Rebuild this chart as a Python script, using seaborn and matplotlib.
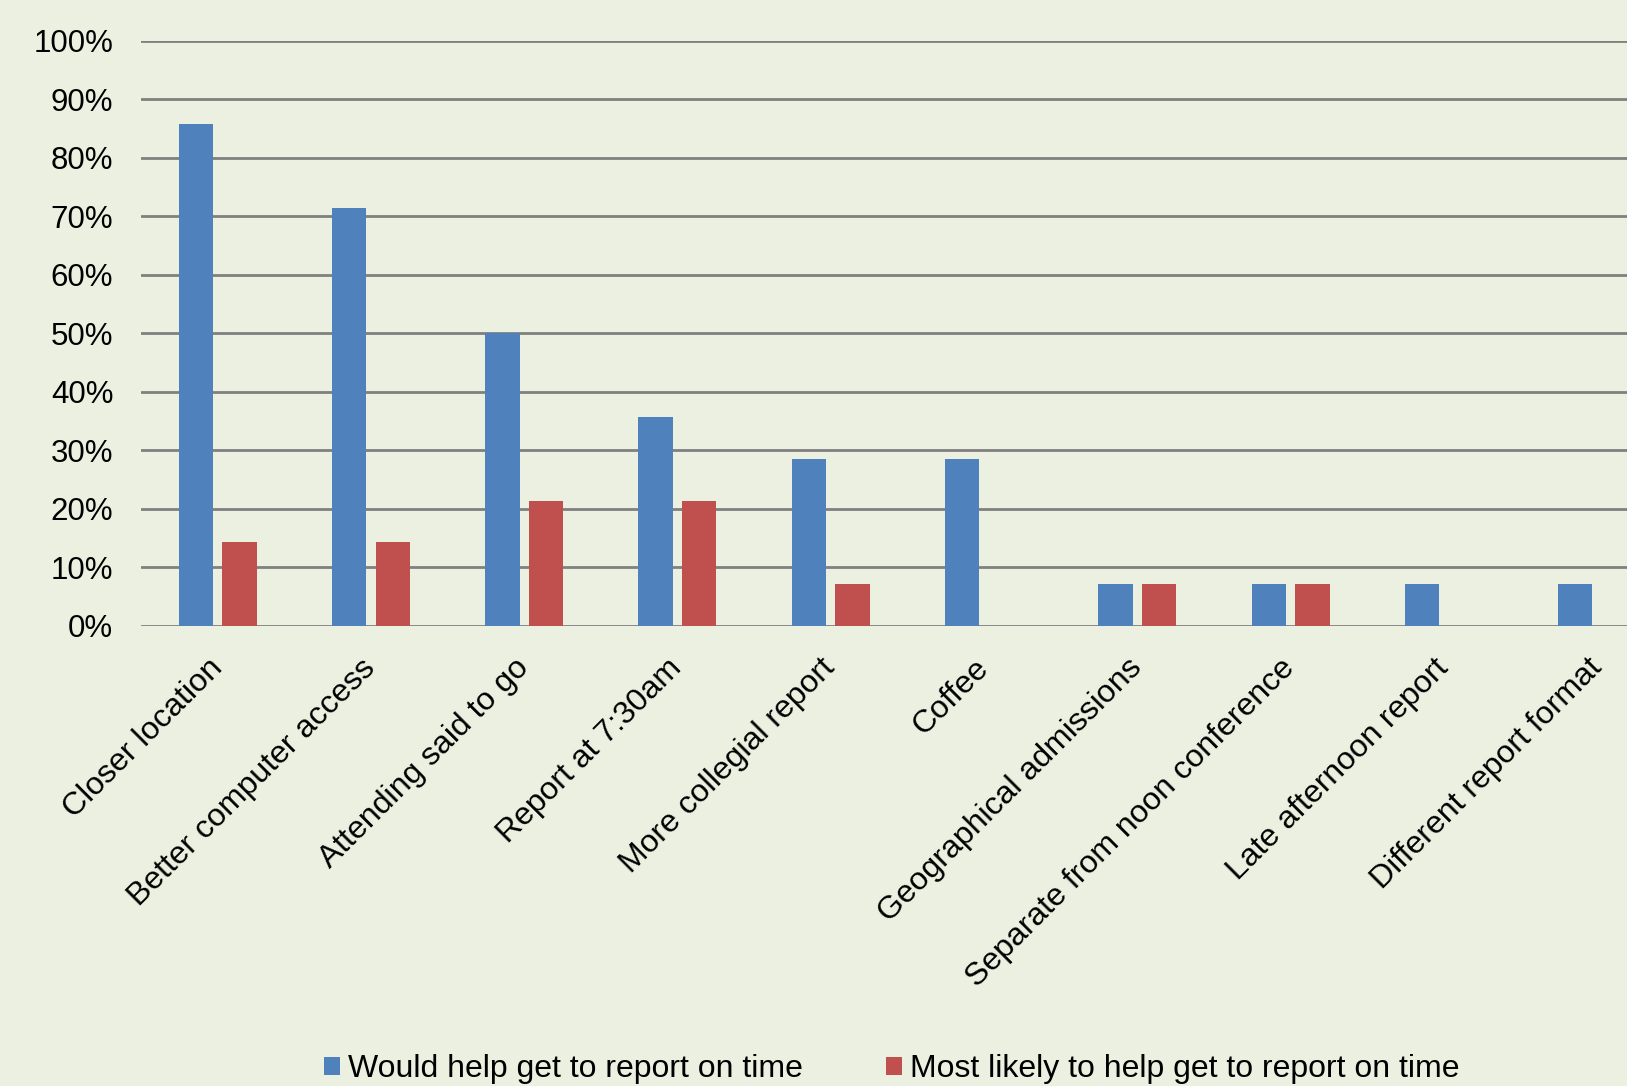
import matplotlib
matplotlib.use('Agg')
import matplotlib.pyplot as plt
import seaborn as sns
import pandas as pd

# Data (percent of respondents)
categories = ['Closer location', 'Better computer access', 'Attending said to go',
              'Report at 7:30am', 'More collegial report', 'Coffee',
              'Geographical admissions', 'Separate from noon conference',
              'Late afternoon report', 'Different report format']
would_help = [85.7, 71.4, 50.0, 35.7, 28.6, 28.6, 7.1, 7.1, 7.1, 7.1]
most_likely = [14.3, 14.3, 21.4, 21.4, 7.1, 0, 7.1, 7.1, 0, 0]
series = ['Would help get to report on time', 'Most likely to help get to report on time']
colors = ['#4F81BD', '#C0504D']

df = pd.DataFrame({
    'category': categories * 2,
    'value': would_help + most_likely,
    'series': [series[0]] * len(categories) + [series[1]] * len(categories),
})

bg = '#ECF0E0'
sns.set_theme(style='white')
plt.rcParams['font.family'] = ['Liberation Sans', 'DejaVu Sans']
plt.rcParams['text.color'] = 'black'

fig = plt.figure(figsize=(16.27, 10.86), dpi=100, facecolor=bg)
ax = fig.add_axes([0.0867, 0.4236, 0.942, 0.5391])
ax.set_facecolor(bg)

sns.barplot(data=df, x='category', y='value', hue='series', order=categories,
            hue_order=series, palette=colors, width=0.57, gap=0.215,
            saturation=1, edgecolor='none', ax=ax)

# Gridlines at every 10%
ax.set_ylim(0, 100)
ax.set_xlim(-0.5, len(categories) - 0.5)
ax.set_yticks(range(0, 101, 10))
ax.set_yticklabels([f'{v}%' for v in range(0, 101, 10)])
ax.yaxis.grid(True, color='#808080', linewidth=2)
ax.set_axisbelow(True)
for s in ax.spines.values():
    s.set_visible(False)
ax.tick_params(axis='both', length=0, labelcolor='black')
ax.tick_params(axis='y', pad=20, labelsize=22.5)
ax.tick_params(axis='x', pad=27, labelsize=23)
plt.setp(ax.get_xticklabels(), rotation=45, ha='right', va='center', rotation_mode='anchor')
ax.set_xlabel('')
ax.set_ylabel('')

# Legend at the bottom
sns.move_legend(ax, 'center', bbox_to_anchor=(0.548, 0.0157), bbox_transform=fig.transFigure,
                ncol=2, frameon=False, title=None, fontsize=23,
                handlelength=0.5, handleheight=0.5, handletextpad=0.25, columnspacing=2.6)

fig.savefig('out.png', dpi=100, facecolor=bg)
